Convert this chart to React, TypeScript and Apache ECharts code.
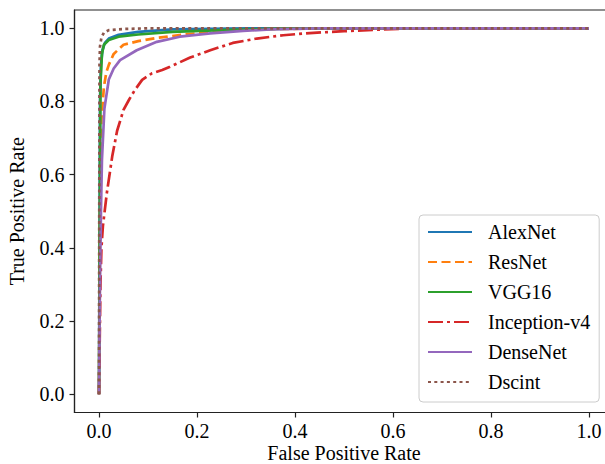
import React, { useEffect, useRef } from "react";
import * as echarts from "echarts";

const modelNames = ["AlexNet", "ResNet", "VGG16", "Inception-v4", "DenseNet", "Dscint"];
const tickValues = [0, 0.2, 0.4, 0.6, 0.8, 1.0];

const alexFpr = [0, 0.002, 0.004, 0.007, 0.012, 0.02, 0.04, 0.08, 0.15, 0.3, 1];
const alexTpr = [0, 0.8, 0.9, 0.94, 0.96, 0.972, 0.982, 0.99, 0.997, 1, 1];

const resFpr = [0, 0.002, 0.005, 0.01, 0.015, 0.02, 0.03, 0.05, 0.08, 0.12, 0.18, 0.25, 0.35, 0.5, 1];
const resTpr = [0, 0.5, 0.75, 0.84, 0.88, 0.9, 0.93, 0.955, 0.965, 0.974, 0.984, 0.992, 0.998, 1, 1];

const vggFpr = [0, 0.003, 0.006, 0.01, 0.02, 0.04, 0.08, 0.15, 0.25, 0.4, 1];
const vggTpr = [0, 0.85, 0.93, 0.955, 0.968, 0.977, 0.983, 0.99, 0.995, 1, 1];

const incFpr = [0, 0.001, 0.002, 0.003, 0.005, 0.008, 0.016, 0.027, 0.037, 0.05, 0.061, 0.073, 0.088, 0.108, 0.129, 0.145, 0.186, 0.227, 0.273, 0.322, 0.376, 0.43, 0.5, 0.58, 0.65, 1];
const incTpr = [0, 0.1, 0.2, 0.3, 0.4, 0.46, 0.55, 0.65, 0.72, 0.777, 0.804, 0.831, 0.859, 0.877, 0.886, 0.895, 0.92, 0.94, 0.96, 0.972, 0.981, 0.987, 0.992, 0.997, 1, 1];

const denseFpr = [0, 0.002, 0.004, 0.006, 0.011, 0.02, 0.03, 0.043, 0.077, 0.118, 0.165, 0.227, 0.294, 0.35, 0.45, 1];
const denseTpr = [0, 0.3, 0.5, 0.64, 0.78, 0.86, 0.89, 0.913, 0.94, 0.963, 0.977, 0.986, 0.993, 0.997, 1, 1];

const dscFpr = [0, 0.001, 0.002, 0.005, 0.01, 0.02, 0.05, 0.1, 1];
const dscTpr = [0, 0.9, 0.95, 0.975, 0.988, 0.995, 0.998, 1, 1];

const colors = ["#1f77b4", "#ff7f0e", "#2ca02c", "#d62728", "#9467bd", "#8c564b"];
const dashes: any[] = ["solid", [9, 4.5], "solid", [15, 4, 3, 4], "solid", [3, 3.3]];
const fprs = [alexFpr, resFpr, vggFpr, incFpr, denseFpr, dscFpr];
const tprs = [alexTpr, resTpr, vggTpr, incTpr, denseTpr, dscTpr];

const FONT = "Liberation Serif";

export default function App() {
  const ref = useRef<HTMLDivElement>(null);
  useEffect(() => {
    if (!ref.current) return;
    const chart = echarts.init(ref.current, null, { renderer: "svg" });
    const axisCommon = (name: string) => ({
      type: "value" as const,
      min: -0.05,
      max: 1.05,
      name,
      nameLocation: "middle" as const,
      nameMoveOverlap: false,
      nameTextStyle: { fontFamily: FONT, fontSize: 20, lineHeight: 20, color: "#000" },
      axisLine: { show: true, onZero: false, lineStyle: { color: "#222", width: 1.2 } },
      axisTick: { show: true, inside: false, length: 5, customValues: tickValues, lineStyle: { color: "#222", width: 1.2 } },
      axisLabel: {
        customValues: tickValues,
        formatter: (v: number) => v.toFixed(1),
        fontFamily: FONT,
        fontSize: 20,
        color: "#000",
      },
      splitLine: { show: false },
    });
    const xAxis: any = axisCommon("False Positive Rate");
    xAxis.nameGap = 30;
    xAxis.axisLabel.margin = 8;
    const yAxis: any = axisCommon("True Positive Rate");
    yAxis.nameGap = 48;
    yAxis.axisLabel.margin = 10;

    chart.setOption({
      animation: false,
      backgroundColor: "#fff",
      textStyle: { fontFamily: FONT },
      grid: {
        left: 74.5,
        top: 10,
        right: -8.5,
        bottom: 51.5,
        outerBoundsMode: "none",
        containLabel: false,
        show: true,
        borderColor: "#222",
        borderWidth: 1.2,
        backgroundColor: "transparent",
      },
      xAxis,
      yAxis,
      legend: {
        orient: "vertical",
        left: 419,
        top: 215,
        padding: [7, 9, 10, 8],
        itemWidth: 44,
        itemHeight: 20,
        itemGap: 10,
        borderColor: "#cccccc",
        borderWidth: 1,
        borderRadius: 4,
        backgroundColor: "rgba(255,255,255,0.8)",
        itemStyle: { color: "rgba(0,0,0,0)", borderColor: "rgba(0,0,0,0)", borderWidth: 0, opacity: 0 },
        textStyle: { fontFamily: FONT, fontSize: 20, color: "#000", padding: [0, 0, 0, 11] },
        data: modelNames,
      },
      series: modelNames.map((name, i) => ({
        name,
        type: "line",
        symbol: "none",
        showSymbol: false,
        data: fprs[i].map((x, j) => [x, tprs[i][j]]),
        lineStyle: { color: colors[i], width: 2.7, type: dashes[i], cap: "butt" },
        itemStyle: { color: colors[i] },
        z: 2 + i,
      })),
    });
    return () => chart.dispose();
  }, []);
  return (
    <div
      ref={ref}
      style={{ position: "fixed", left: 0, top: 0, width: 605, height: 464, background: "#fff" }}
    />
  );
}
